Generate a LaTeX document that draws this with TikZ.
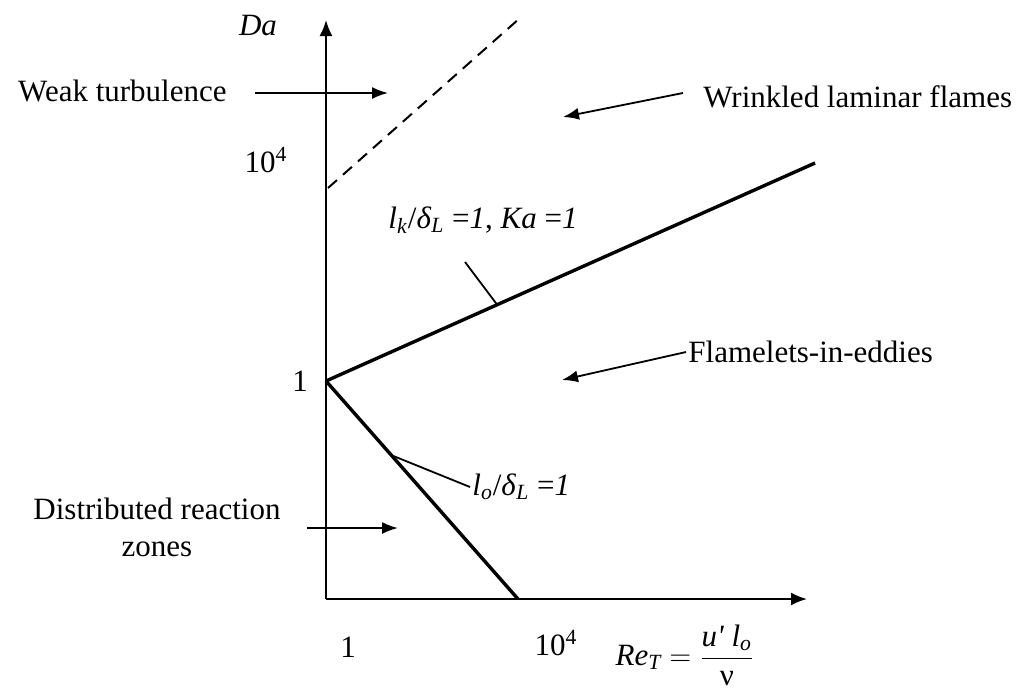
\documentclass[tikz,border=0pt]{standalone}
\usepackage{fontspec}
\setmainfont{Liberation Serif}
\usepackage{amsmath}
\usepackage{tikz}
\usetikzlibrary{positioning, arrows.meta, calc}
\tikzstyle{axisarrow} = [line width=1pt, -{Latex[length=8pt,width=6.5pt]}]
\tikzstyle{boundary} = [line width=1.7pt]
\tikzstyle{arrow} = [line width=0.9pt, -{Latex[length=8pt,width=6pt]}]
\tikzstyle{leader} = [line width=0.9pt]
\tikzstyle{txt} = [font=\fontsize{15.5}{18.5}\selectfont, inner sep=1pt]

\begin{document}
\begin{tikzpicture}[x=0.5pt, y=-0.5pt]
    	\useasboundingbox (0,0) rectangle (1027,692);

    	% axes
    	\coordinate (O) at (326,599);
    	\coordinate (ytop) at (326,20);
    	\coordinate (xend) at (807,599);
    	\draw[axisarrow] (O) -- (ytop);
    	\draw[axisarrow] (O) -- (xend);

    	% regime boundaries
    	\coordinate (K) at (326,381);
    	\coordinate (hi) at (815,163);
    	\coordinate (lo) at (518,599);
    	\coordinate (d1) at (328,188);
    	\coordinate (d2) at (520,18);
    	\draw[boundary] (K) -- (hi);
    	\draw[boundary] (K) -- (lo);
    	\draw[line width=1pt, dash pattern=on 6pt off 4pt] (d1) -- (d2);

    	% axis labels
    	\node[txt] (da) at (258,26) {\textit{Da}};
    	\node[txt] (y4) at (266,160) {10\textsuperscript{4}};
    	\node[txt] (y1) at (300,381) {1};
    	\node[txt] (x1) at (348,647) {1};
    	\node[txt] (x4) at (556,643) {10\textsuperscript{4}};
    	\node[txt] (re) at (685,655) {$\textit{Re}_{\textit{T}} = \dfrac{\textit{u\textquotesingle\ l}_{\textit{o}}}{\text{ν}}$};

    	% line labels
    	\node[txt] (lk) at (483,220) {\textit{l}\textsubscript{\textit{k}}/\textit{δ}\textsubscript{\textit{L}} =\textit{1}, \textit{Ka} =\textit{1}};
    	\coordinate (lkfoot) at ($(K)!0.35!(hi)$);
    	\coordinate (lktop) at (465,262);
    	\draw[leader] (lkfoot) -- (lktop);

    	\node[txt, anchor=west] (lo1) at (470,487) {\textit{l}\textsubscript{\textit{o}}/\textit{δ}\textsubscript{\textit{L}} =\textit{1}};
    	\coordinate (lofoot) at ($(K)!0.34!(lo)$);
    	\draw[leader] (lofoot) -- (lo1.west);

    	% regimes
    	\node[txt, anchor=east] (weak) at (229,91) {Weak turbulence};
    	\coordinate (weaktip) at (388,93);
    	\draw[arrow] (255,93) -- (weaktip);

    	\node[txt, anchor=west] (wrink) at (701,97) {Wrinkled laminar flames};
    	\coordinate (wrinktip) at (563,117);
    	\draw[arrow] (683,93) -- (wrinktip);

    	\node[txt, anchor=west] (flam) at (686,352) {Flamelets-in-eddies};
    	\coordinate (flamtip) at (562,380);
    	\draw[arrow] (flam.west) -- (flamtip);

    	\node[txt, align=center] (dist) at (157,527) {Distributed reaction\\zones};
    	\coordinate (disttip) at (398,528);
    	\draw[arrow] (307,528) -- (disttip);

\end{tikzpicture}
\end{document}
